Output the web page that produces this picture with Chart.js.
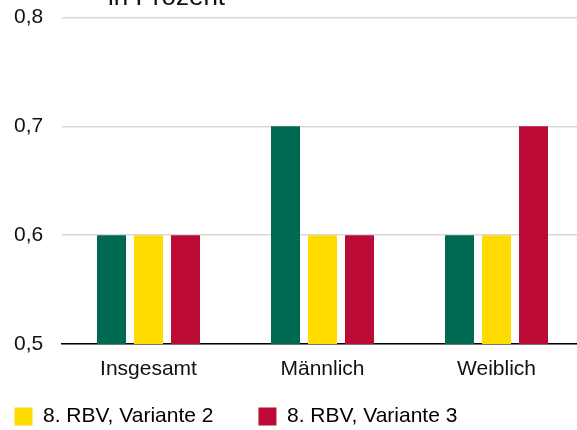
<!DOCTYPE html>
<html>
<head>
<meta charset="utf-8">
<script src="https://cdn.jsdelivr.net/npm/chart.js@4"></script>
<style>
  html, body { margin: 0; padding: 0; background: #fff; overflow: hidden; width: 577px; height: 430px; }
  #wrap { position: absolute; left: 0; top: 0; width: 586px; height: 437px; }
</style>
</head>
<body>
<div id="wrap"><canvas id="c"></canvas></div>
<script>
const categories = ['Insgesamt', 'Männlich', 'Weiblich'];
const seriesNames = ['8. RBV, Variante 1', '8. RBV, Variante 2', '8. RBV, Variante 3'];
const variante1 = [0.6, 0.7, 0.6];
const variante2 = [0.6, 0.6, 0.6];
const variante3 = [0.6, 0.6, 0.7];
const yTicks = [0.5, 0.6, 0.7, 0.8];
const titleText = 'in Prozent';

const colors = ['#006951', '#FFDC00', '#BC0A36'];
const FONT = '"Liberation Sans", Arial, sans-serif';
const TEXT = '#111111';

const titlePlugin = {
  id: 'cutTitle',
  afterDraw(chart) {
    const ctx = chart.ctx;
    ctx.save();
    ctx.font = '26px ' + FONT;
    ctx.fillStyle = TEXT;
    ctx.textAlign = 'left';
    ctx.textBaseline = 'alphabetic';
    ctx.fillText(titleText, 108, 5);
    ctx.restore();
  }
};

new Chart(document.getElementById('c'), {
  type: 'bar',
  data: {
    labels: categories,
    datasets: [variante1, variante2, variante3].map((d, i) => ({
      label: seriesNames[i],
      data: d,
      backgroundColor: colors[i],
      borderWidth: 0,
      categoryPercentage: 0.638,
      barPercentage: 0.784
    }))
  },
  options: {
    responsive: true,
    maintainAspectRatio: false,
    animation: false,
    events: [],
    layout: { padding: { left: 4.5, right: 2.5, top: 17.5, bottom: 0 } },
    plugins: {
      title: { display: false },
      tooltip: { enabled: false },
      legend: {
        display: true,
        position: 'bottom',
        align: 'start',
        labels: {
          color: TEXT,
          font: { family: FONT, size: 21 },
          boxWidth: 18,
          boxHeight: 18,
          padding: 10,
          filter: (item) => item.datasetIndex !== 0,
          generateLabels: (chart) => chart.data.datasets.map((ds, i) => ({
            text: ds.label + '      ',
            fillStyle: ds.backgroundColor,
            strokeStyle: ds.backgroundColor,
            lineWidth: 0,
            hidden: false,
            datasetIndex: i
          }))
        }
      }
    },
    scales: {
      x: {
        grid: { display: false, drawTicks: false },
        border: { display: true, color: '#000', width: 1.5 },
        ticks: { color: TEXT, font: { family: FONT, size: 21 }, padding: 12.5 },
        afterFit: (s) => { s.height = 52; }
      },
      y: {
        min: 0.5,
        max: 0.8,
        grid: { color: '#d9d9d9', lineWidth: 1.5, drawTicks: true, tickLength: 15.2, tickColor: 'rgba(0,0,0,0)' },
        border: { display: false },
        afterBuildTicks: (s) => { s.ticks = yTicks.map(v => ({ value: v })); },
        afterFit: (s) => { s.width = 57; },
        ticks: {
          color: TEXT,
          font: { family: FONT, size: 21 },
          padding: 3,
          callback: (v) => String(Number(v).toFixed(1)).replace('.', ',')
        }
      }
    }
  },
  plugins: [titlePlugin]
});
</script>
</body>
</html>
